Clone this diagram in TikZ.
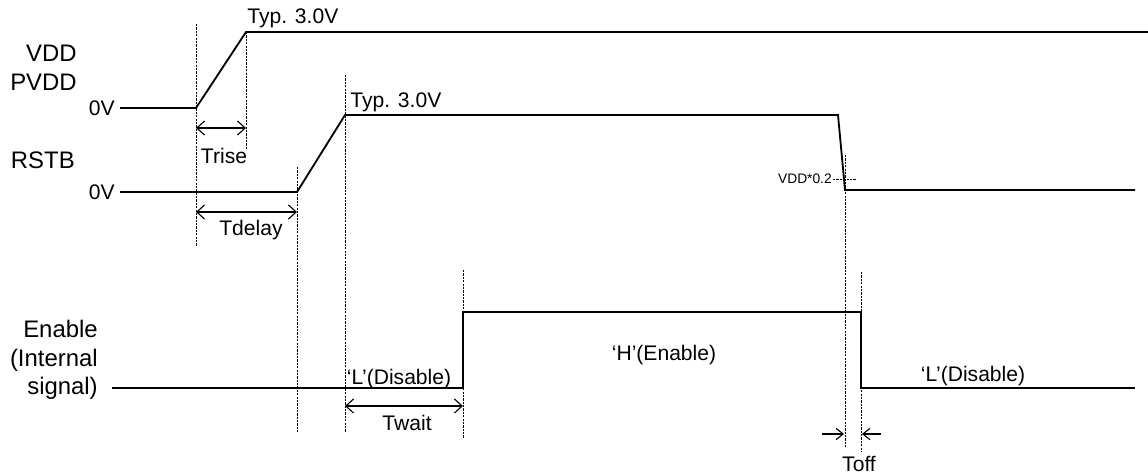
\documentclass[tikz,border=0pt]{standalone}
\usepackage{fontspec}
\setmainfont{Liberation Sans}
\usepackage{tikz}
\usetikzlibrary{arrows.meta}

\begin{document}
\begin{tikzpicture}[x=0.025cm,y=-0.025cm,
  sig/.style={line width=1.3pt},
  guide/.style={line width=0.7pt,dash pattern=on 1.6pt off 0.8pt},
  dim/.style={line width=0.8pt,{Straight Barb[length=5.5pt,width=10pt]}-{Straight Barb[length=5.5pt,width=10pt]}},
  tip/.style={line width=0.8pt,-{Straight Barb[length=5pt,width=8pt]}},
  lbl/.style={font=\fontsize{15}{20.5}\selectfont,inner sep=0pt},
  signame/.style={font=\fontsize{17}{20.3}\selectfont,inner sep=0pt,align=right},
  small/.style={font=\fontsize{9.8}{11}\selectfont,inner sep=0pt}]
\def\cLine{black}
\def\cText{black}
\useasboundingbox (0,0) rectangle (1148,475);
% VDD / PVDD
\coordinate (V0) at (120,108);
\coordinate (V1) at (196,108);
\coordinate (V2) at (246,32);
\coordinate (V3) at (1148,32);
\draw[sig,\cLine] (V0) -- (V1) -- (V2) -- (V3);
\node[signame,\cText,anchor=east] (vdd) at (77,68) {VDD\\PVDD};
\node[lbl,\cText,anchor=east] (v0v) at (115,108) {0V};
\node[lbl,\cText,anchor=base west] (vtyp) at (247,23) {Typ. 3.0V};
% RSTB
\coordinate (R0) at (120,192);
\coordinate (R1) at (297,192);
\coordinate (R2) at (345,115);
\coordinate (R3) at (838,115);
\coordinate (R4) at (845,190);
\coordinate (R5) at (1135,190);
\draw[sig,\cLine] (R0) -- (R1) -- (R2) -- (R3) -- (R4) -- (R5);
\node[signame,\cText,anchor=east] (rstb) at (75,160) {RSTB};
\node[lbl,\cText,anchor=east] (r0v) at (115,192) {0V};
\node[lbl,\cText,anchor=base west] (rtyp) at (350,107) {Typ. 3.0V};
\node[small,\cText,anchor=east] (vth) at (832,179) {VDD*0.2};
% Enable
\coordinate (E0) at (112,388);
\coordinate (E1) at (463,388);
\coordinate (E2) at (463,312);
\coordinate (E3) at (861,312);
\coordinate (E4) at (861,388);
\coordinate (E5) at (1135,388);
\draw[sig,\cLine] (E0) -- (E1) -- (E2) -- (E3) -- (E4) -- (E5);
\node[signame,\cText,anchor=east] (en) at (98,360) {Enable\\(Internal\\signal)};
\node[lbl,\cText,anchor=base] (dis1) at (399,384) {‘L’(Disable)};
\node[lbl,\cText,anchor=base] (ena) at (664,360) {‘H’(Enable)};
\node[lbl,\cText,anchor=base] (dis2) at (973,381) {‘L’(Disable)};
% guides
\draw[guide] (196,24) -- (196,246);
\draw[guide] (246,32) -- (246,150);
\draw[guide] (297,167) -- (297,432);
\draw[guide] (345,75) -- (345,432);
\draw[guide] (463,270) -- (463,438);
\draw[guide] (845,155) -- (845,448);
\draw[guide] (861,272) -- (861,452);
\draw[guide] (833,179) -- (856,179);
% timings
\draw[dim] (196,128) -- (246,128);
\node[lbl,\cText,anchor=base] (trise) at (224,163) {Trise};
\draw[dim] (196,212) -- (297,212);
\node[lbl,\cText,anchor=base] (tdelay) at (251,235) {Tdelay};
\draw[dim] (345,406) -- (463,406);
\node[lbl,\cText,anchor=base] (twait) at (407,430) {Twait};
\draw[tip] (822,434) -- (844,434);
\draw[tip] (881,434) -- (862,434);
\node[lbl,\cText,anchor=base] (toff) at (859,471) {Toff};
\end{tikzpicture}
\end{document}
